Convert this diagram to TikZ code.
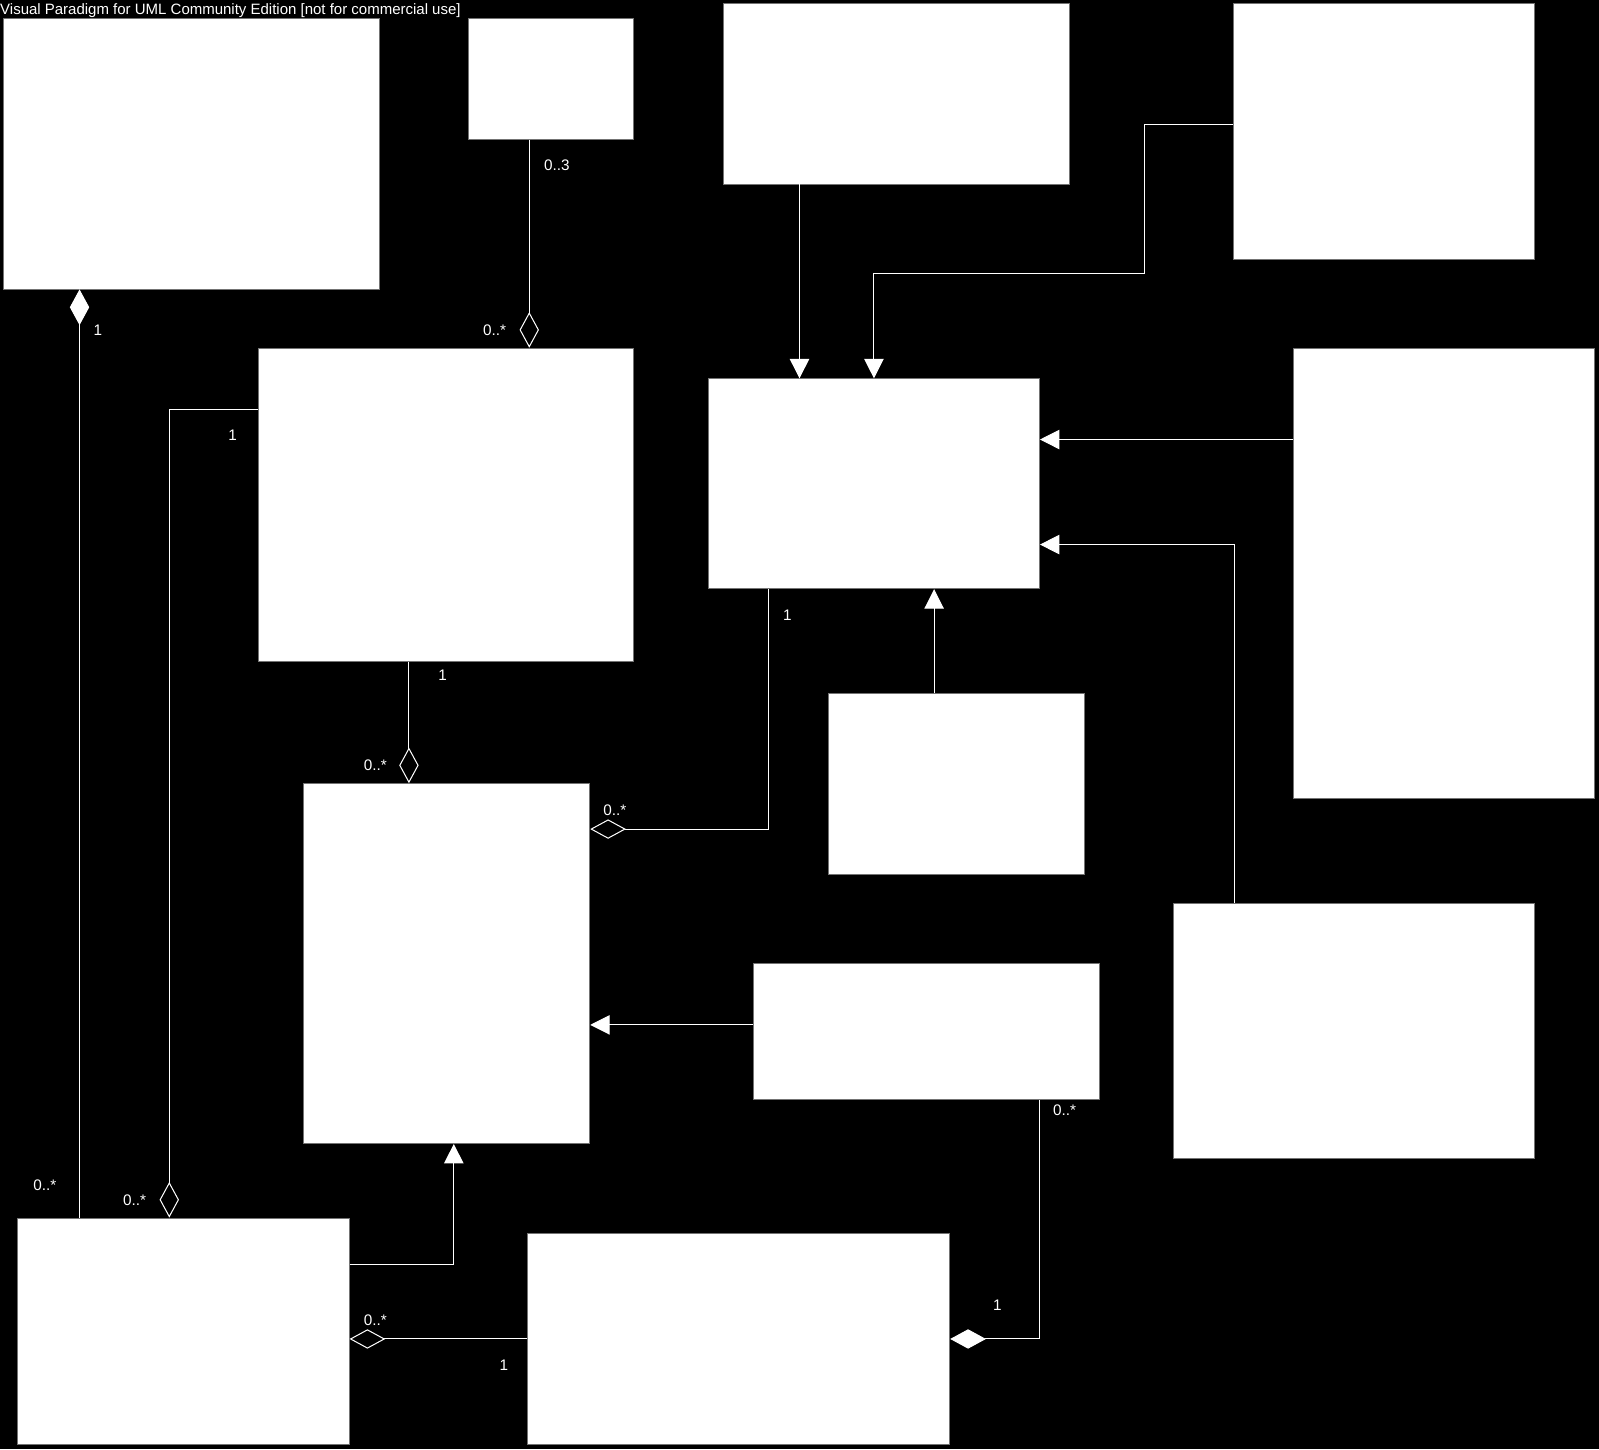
\documentclass[tikz,border=0pt]{standalone}
\usepackage{fontspec}
\setmainfont{Liberation Sans}
\usetikzlibrary{arrows.meta}
\tikzset{
  box/.style={draw=black!55, line width=0.8pt, fill=white, anchor=north west, inner sep=0pt},
  conn/.style={draw=white, line width=1pt},
  gen/.style={conn, -{Triangle[length=19pt, width=19pt, fill=white]}},
  agg/.style={conn, -{Diamond[length=35pt, width=19pt, fill=black]}},
  comp/.style={conn, -{Diamond[length=35pt, width=19pt, fill=white]}},
  aggstart/.style={conn, {Diamond[length=35pt, width=19pt, fill=black]}-},
  compstart/.style={conn, {Diamond[length=35pt, width=19pt, fill=white]}-},
  mult/.style={text=white, font=\fontsize{15pt}{17pt}\selectfont, inner sep=0pt},
  title/.style={text=white, font=\fontsize{14.7pt}{16pt}\selectfont, inner sep=0pt, anchor=north west}
}
\begin{document}
\begin{tikzpicture}[x=1pt, y=-1pt]
\fill[black] (0,0) rectangle (1568,1421);
\useasboundingbox (0,0) rectangle (1568,1421);

\node[title] (ttl) at (0,3) {Visual Paradigm for UML Community Edition [not for commercial use]};

% boxes
\node[box, minimum width=369pt, minimum height=265pt] (A) at (3,18) {};
\node[box, minimum width=162pt, minimum height=118pt] (B) at (459,18) {};
\node[box, minimum width=339pt, minimum height=177pt] (C) at (709,3) {};
\node[box, minimum width=295pt, minimum height=251pt] (D) at (1209,3) {};
\node[box, minimum width=368pt, minimum height=307pt] (E) at (253,341) {};
\node[box, minimum width=325pt, minimum height=206pt] (F) at (694,371) {};
\node[box, minimum width=295pt, minimum height=442pt] (G) at (1268,341) {};
\node[box, minimum width=251pt, minimum height=177pt] (H) at (812,680) {};
\node[box, minimum width=281pt, minimum height=353pt] (I) at (297,768) {};
\node[box, minimum width=340pt, minimum height=134pt] (J) at (738,944) {};
\node[box, minimum width=354pt, minimum height=251pt] (K) at (1150,885) {};
\node[box, minimum width=325pt, minimum height=222pt] (L) at (17,1194) {};
\node[box, minimum width=414pt, minimum height=207pt] (M) at (517,1209) {};

% anchor points on nodes
\coordinate (b1) at ([xshift=60pt]B.south west);
\coordinate (a1) at ([xshift=75pt]A.south west);
\coordinate (e1) at ([yshift=-61pt]E.north west);
\coordinate (l1) at ([xshift=149pt]L.north west);
\coordinate (e2) at ([xshift=148pt]E.south west);
\coordinate (c1) at ([xshift=75pt]C.south west);
\coordinate (d1) at ([yshift=-119pt]D.north west);
\coordinate (f1) at ([xshift=163pt]F.north west);
\coordinate (g1) at ([yshift=-90pt]G.north west);
\coordinate (k1) at ([xshift=61pt]K.north west);
\coordinate (f2) at ([yshift=-163pt]F.north east);
\coordinate (h1) at ([xshift=104pt]H.north west);
\coordinate (f3) at ([xshift=60pt]F.south west);
\coordinate (i1) at ([yshift=-45pt]I.north east);
\coordinate (j1) at ([yshift=-61pt]J.north west);
\coordinate (l2) at ([yshift=-46pt]L.north east);
\coordinate (i2) at ([xshift=148pt]I.south west);
\coordinate (m1) at ([yshift=-104pt]M.north west);
\coordinate (j2) at ([xshift=281pt]J.south west);
\coordinate (m2) at ([yshift=-104pt]M.north east);

% connectors
\draw[agg] (b1) -- (b1 |- E.north);
\draw[compstart] (a1) -- (a1 |- L.north);
\draw[agg] (e1) -| (l1);
\draw[agg] (e2) -- (e2 |- I.north);
\draw[gen] (c1) -- (c1 |- F.north);
\draw[gen] (d1) -- ++(-87,0) -- ++(0,146) -| (f1);
\draw[gen] (g1) -- (g1 -| F.east);
\draw[gen] (k1) |- (f2);
\draw[gen] (h1) -- (h1 |- F.south);
\draw[agg] (f3) |- (i1);
\draw[gen] (j1) -- (j1 -| I.east);
\draw[gen] (l2) -| (i2);
\draw[agg] (m1) -- (m1 -| L.east);
\draw[comp] (j2) |- (m2);

% multiplicities
\node[mult] (t1) at (546,162) {0..3};
\node[mult] (t2) at (485,324) {0..*};
\node[mult] (t3) at (96,324) {1};
\node[mult] (t4) at (228,427) {1};
\node[mult] (t5) at (434,662) {1};
\node[mult] (t6) at (368,750) {0..*};
\node[mult] (t7) at (772,603) {1};
\node[mult] (t8) at (603,795) {0..*};
\node[mult] (t9) at (44,1162) {0..*};
\node[mult] (t10) at (132,1177) {0..*};
\node[mult] (t11) at (1044,1089) {0..*};
\node[mult] (t12) at (978,1280) {1};
\node[mult] (t13) at (368,1295) {0..*};
\node[mult] (t14) at (494,1339) {1};
\end{tikzpicture}
\end{document}
